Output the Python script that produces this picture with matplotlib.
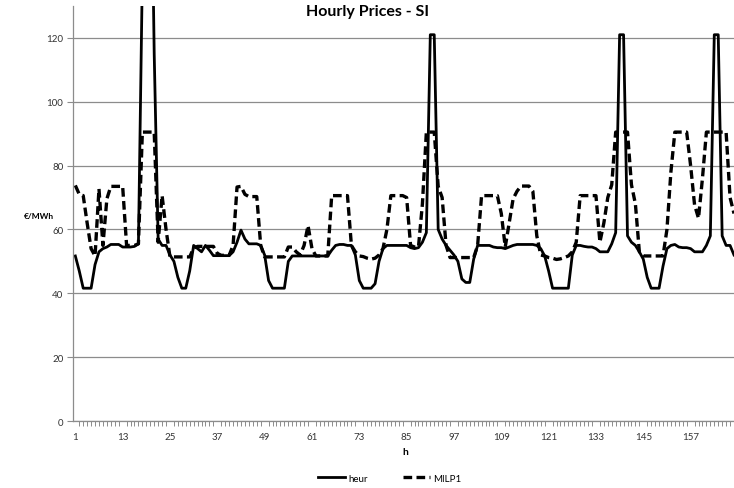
import matplotlib
matplotlib.use("Agg")
import matplotlib.pyplot as plt
import numpy as np

# hours 1..168
hours = list(range(1, 169))

heur = [
    51.7, 47, 41.6, 41.6, 41.6, 49, 53, 54, 54.5, 55.3,          # 1-10
    55.3, 55.3, 54.5, 54.5, 54.5, 54.7, 55.5, 140, 200, 200,      # 11-20
    115, 57, 55, 55, 52, 50, 45, 41.6, 41.6, 47,                  # 21-30
    55, 54, 53, 55, 53.5, 51.8, 51.8, 51.8, 51.8, 51.8,           # 31-40
    53, 56, 59.8, 57, 55.5, 55.5, 55.5, 55, 52, 44,               # 41-50
    41.6, 41.6, 41.6, 41.6, 50, 51.7, 51.7, 51.7, 51.7, 51.7,     # 51-60
    51.7, 51.7, 51.7, 51.7, 51.7, 53.5, 55, 55.3, 55.3, 55,       # 61-70
    55, 52, 44, 41.6, 41.6, 41.6, 43, 50, 54, 55,                 # 71-80
    55, 55, 55, 55, 55, 54.3, 54, 54.3, 56, 59,                   # 81-90
    121, 121, 60, 57, 55, 53.5, 52, 50, 44.5, 43.4,               # 91-100
    43.4, 50.7, 55, 55, 55, 55, 54.5, 54.3, 54.3, 54,             # 101-110
    54.5, 55, 55.3, 55.3, 55.3, 55.3, 55.3, 55, 54, 51.7,         # 111-120
    47, 41.6, 41.6, 41.6, 41.6, 41.6, 52, 55, 55, 54.7,           # 121-130
    54.5, 54.5, 54, 53, 53, 53, 55.5, 59, 121, 121,               # 131-140
    58, 56, 55, 53, 50.7, 45, 41.6, 41.6, 41.6, 48.5,             # 141-150
    54, 55, 55.3, 54.5, 54.3, 54.3, 54, 53, 53, 53,               # 151-160
    55, 58, 121, 121, 58, 55, 55, 52,                             # 161-168
]

milp1 = [
    73.8, 71, 70.6, 62, 54, 51.7, 72.7, 55, 69.6, 73.5,           # 1-10
    73.5, 73.5, 73.5, 55, 55, 55, 55.5, 90.5, 90.5, 90.5,         # 11-20
    90.5, 56, 70.6, 60, 51.4, 51.4, 51.4, 51.4, 51.4, 51.4,       # 21-30
    54.2, 54.7, 54.7, 54.7, 54.7, 54.7, 52.5, 51.9, 51.9, 51.9,   # 31-40
    55, 73.3, 73.5, 71, 70.3, 70.3, 70.3, 55, 51.4, 51.4,         # 41-50
    51.4, 51.4, 51.4, 51.4, 54.5, 54.5, 53, 52, 55, 61.2,         # 51-60
    54, 51.7, 51.7, 51.7, 51.7, 70.6, 70.6, 70.6, 70.6, 70.6,     # 61-70
    55, 53, 51.7, 51.5, 51, 50.7, 51, 52, 54, 60,                 # 71-80
    70.6, 70.6, 70.6, 70.6, 70, 55, 54.5, 54.5, 68, 90.5,         # 81-90
    90.5, 90.5, 73.5, 70, 55, 51.2, 51.2, 51.2, 51.2, 51.2,       # 91-100
    51.2, 51.2, 55, 70.6, 70.6, 70.6, 70.6, 70.6, 65, 54.5,       # 101-110
    62, 69.6, 72, 73.6, 73.6, 73.6, 72, 58, 52, 51.7,             # 111-120
    51.2, 51, 50.6, 50.8, 51.2, 51.7, 53, 56, 70.6, 70.6,         # 121-130
    70.6, 70.6, 70.6, 56, 62, 70, 74, 90.5, 90.5, 90.5,           # 131-140
    90.5, 74, 68, 53, 51.7, 51.7, 51.7, 51.7, 51.7, 51.7,         # 141-150
    60, 78, 90.5, 90.5, 90.5, 90.5, 80, 67.7, 63.5, 76,           # 151-160
    90.5, 90.5, 90.5, 90.5, 90.5, 90.5, 70, 65,                   # 161-168
]

xtick_labels = list(range(1, 169, 12))
yticks = [0, 20, 40, 60, 80, 100, 120]

fnt = "Lato"

fig = plt.figure(figsize=(7.34, 4.89), dpi=100)
ax = fig.add_axes([0.0995, 0.137, 0.9005, 0.8487])

ax.plot(hours, heur, color="black", lw=2.0, label="heur")
ax.plot(hours, milp1, color="black", lw=2.4, dashes=(2.6, 1.3),
        label="MILP1")

ax.set_xlim(0.42, 166.9)
ax.set_ylim(0, 130)

ax.set_yticks(yticks)
ax.set_xticks(xtick_labels)
ax.set_xticks(hours, minor=True)
ax.yaxis.grid(True, color="#8c8c8c", lw=0.9)
ax.set_axisbelow(True)

for s in ["top", "right"]:
    ax.spines[s].set_visible(False)
for s in ["left", "bottom"]:
    ax.spines[s].set_color("#8c8c8c")
    ax.spines[s].set_linewidth(0.9)

ax.tick_params(axis="x", which="major", length=0, pad=8, labelsize=7,
               labelcolor="#333333")
ax.tick_params(axis="x", which="minor", length=3.5, color="#8c8c8c",
               width=0.7)
ax.tick_params(axis="y", length=4, color="#8c8c8c", labelsize=7,
               labelcolor="#333333", pad=3)
for lab in ax.get_xticklabels() + ax.get_yticklabels():
    lab.set_family(fnt)

fig.text(0.5, 0.975, "Hourly Prices - SI", ha="center", va="center",
         fontsize=11.5, fontweight="bold", family=fnt)
fig.text(0.033, 0.557, "€/MWh", ha="left", va="center", fontsize=6,
         fontweight="bold", family=fnt)
fig.text(0.552, 0.075, "h", ha="center", va="center", fontsize=7.5,
         fontweight="bold", family=fnt)

leg = fig.legend(loc="center", bbox_to_anchor=(0.531, 0.02), ncol=2,
                 frameon=False, handlelength=2.8,
                 columnspacing=3.6, handletextpad=0.3,
                 prop={"family": fnt, "size": 7})

fig.savefig("out.png", dpi=100)
